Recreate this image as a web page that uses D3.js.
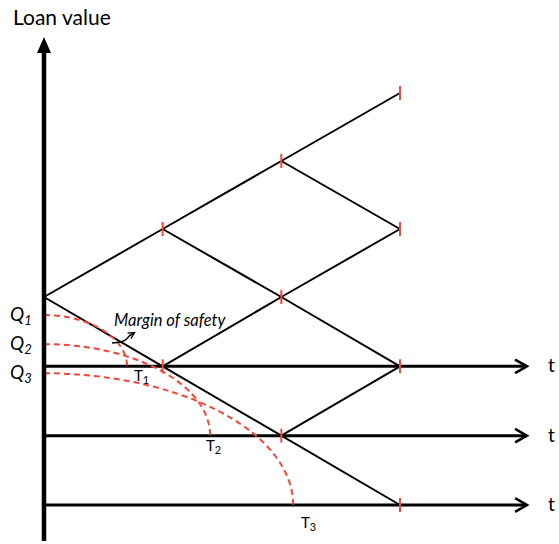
<!DOCTYPE html>
<html>
<head>
<meta charset="utf-8">
<script src="https://cdn.jsdelivr.net/npm/d3@7"></script>
<style>
  html, body { margin: 0; padding: 0; background: #fff; }
  svg { display: block; }
  text { font-family: Lato, "Open Sans", sans-serif; fill: #000; }
</style>
</head>
<body>
<svg id="chart" width="559" height="544"></svg>
<script>
// ---- data ----
const steps = [0, 1, 2, 3];
// binomial tree nodes: time step t, level v (up = +, down = -)
const nodes = [
  {id: "n0",  t: 0, v: 0},
  {id: "u1",  t: 1, v: 1},  {id: "d1",  t: 1, v: -1},
  {id: "uu2", t: 2, v: 2},  {id: "ud2", t: 2, v: 0},  {id: "dd2", t: 2, v: -2},
  {id: "u3",  t: 3, v: 3},  {id: "u1_3", t: 3, v: 1}, {id: "d1_3", t: 3, v: -1}, {id: "d3", t: 3, v: -3}
];
const edges = [
  ["n0", "u1"], ["n0", "d1"],
  ["u1", "uu2"], ["u1", "ud2"], ["d1", "ud2"], ["d1", "dd2"],
  ["uu2", "u3"], ["uu2", "u1_3"], ["ud2", "u1_3"], ["ud2", "d1_3"], ["dd2", "d1_3"], ["dd2", "d3"]
];
const tickedNodes = ["u1", "d1", "uu2", "ud2", "dd2", "u3", "u1_3", "d1_3", "d3"];
// horizontal time axes at the down levels
const timeAxisLevels = [-1, -2, -3];
const timeAxisEnd = 4.07;
// safety-margin thresholds
const qLabels = ["1", "2", "3"];
const qLevels = [-0.26, -0.68, -1.10];
const tHits = [0.70, 1.40, 2.10];
const tAxisLevel = [-1, -2, -3];

// ---- scales ----
const x = d3.scaleLinear().domain([0, 3]).range([44, 400]);
const y = d3.scaleLinear().domain([-3, 0, 3]).range([505, 297, 93]);

const svg = d3.select("#chart");
const byId = Object.fromEntries(nodes.map(n => [n.id, n]));

// defs
const defs = svg.append("defs");
defs.append("marker").attr("id", "chev")
  .attr("viewBox", "0 0 20 20").attr("refX", 17).attr("refY", 10)
  .attr("markerWidth", 17).attr("markerHeight", 17).attr("markerUnits", "userSpaceOnUse")
  .attr("orient", "auto")
  .append("path").attr("d", "M3,2 L17,10 L3,18").attr("fill", "none")
  .attr("stroke", "#000").attr("stroke-width", 3).attr("stroke-linejoin", "miter");
defs.append("marker").attr("id", "small")
  .attr("viewBox", "0 0 10 10").attr("refX", 8).attr("refY", 5)
  .attr("markerWidth", 8).attr("markerHeight", 8).attr("markerUnits", "userSpaceOnUse")
  .attr("orient", "auto")
  .append("path").attr("d", "M1,1 L9,5 L1,9").attr("fill", "none")
  .attr("stroke", "#000").attr("stroke-width", 1.6);

// time axes
svg.append("g").selectAll("line").data(timeAxisLevels).join("line")
  .attr("x1", x(0)).attr("x2", x(timeAxisEnd))
  .attr("y1", d => y(d)).attr("y2", d => y(d))
  .attr("stroke", "#000").attr("stroke-width", 3)
  .attr("marker-end", "url(#chev)");
svg.append("g").selectAll("text").data(timeAxisLevels).join("text")
  .attr("x", 548).attr("y", d => y(d) + 6)
  .attr("font-size", 19).text("t");

// tree edges
svg.append("g").selectAll("line").data(edges).join("line")
  .attr("x1", d => x(byId[d[0]].t)).attr("y1", d => y(byId[d[0]].v))
  .attr("x2", d => x(byId[d[1]].t)).attr("y2", d => y(byId[d[1]].v))
  .attr("stroke", "#000").attr("stroke-width", 2);

// red ticks at nodes
svg.append("g").selectAll("line").data(tickedNodes.map(id => byId[id])).join("line")
  .attr("x1", d => x(d.t)).attr("x2", d => x(d.t))
  .attr("y1", d => y(d.v) - 7).attr("y2", d => y(d.v) + 7)
  .attr("stroke", "#f0463c").attr("stroke-width", 2);

// dashed safety curves (quarter ellipses from Q on the value axis to T on the time axis)
svg.append("g").selectAll("path").data(qLevels).join("path")
  .attr("d", (q, i) => {
    const x0 = x(0), y0 = y(q), x1 = x(tHits[i]), y1 = y(tAxisLevel[i]);
    return `M${x0},${y0} A${x1 - x0},${y1 - y0} 0 0 1 ${x1},${y1}`;
  })
  .attr("fill", "none").attr("stroke", "#f0463c").attr("stroke-width", 2)
  .attr("stroke-dasharray", "6,4");

// vertical value axis
svg.append("line").attr("x1", x(0)).attr("x2", x(0)).attr("y1", 541).attr("y2", 50)
  .attr("stroke", "#000").attr("stroke-width", 4.5);
svg.append("path").attr("d", `M${x(0) - 7},53 L${x(0)},37 L${x(0) + 7},53 Z`).attr("fill", "#000");

svg.append("text").attr("x", 13).attr("y", 25).attr("font-size", 21).text("Loan value");

// Q labels
qLevels.forEach((q, i) => {
  const t = svg.append("text").attr("x", 10).attr("y", y(q) + 6)
    .attr("font-size", 19).attr("font-style", "italic");
  t.append("tspan").text("Q");
  t.append("tspan").attr("font-size", 13).attr("dy", 4).text(qLabels[i]);
});

// T labels
const tLabelPos = [[134, 381], [206, 451], [301, 528]];
tHits.forEach((h, i) => {
  const t = svg.append("text").attr("x", tLabelPos[i][0]).attr("y", tLabelPos[i][1])
    .attr("font-size", 15);
  t.append("tspan").text("T");
  t.append("tspan").attr("font-size", 11).attr("dy", 3).text(qLabels[i]);
});

// margin of safety label + pointer
svg.append("text").attr("x", 114).attr("y", 326).attr("font-size", 16.5)
  .attr("font-style", "italic").text("Margin of safety");
svg.append("path").attr("d", "M112,343 L121,342 Q127,340 129,336")
  .attr("fill", "none").attr("stroke", "#000").attr("stroke-width", 1.6);
svg.append("path").attr("d", "M129,336 L134,333")
  .attr("fill", "none").attr("stroke", "#000").attr("stroke-width", 1.6)
  .attr("marker-end", "url(#small)");
</script>
</body>
</html>
